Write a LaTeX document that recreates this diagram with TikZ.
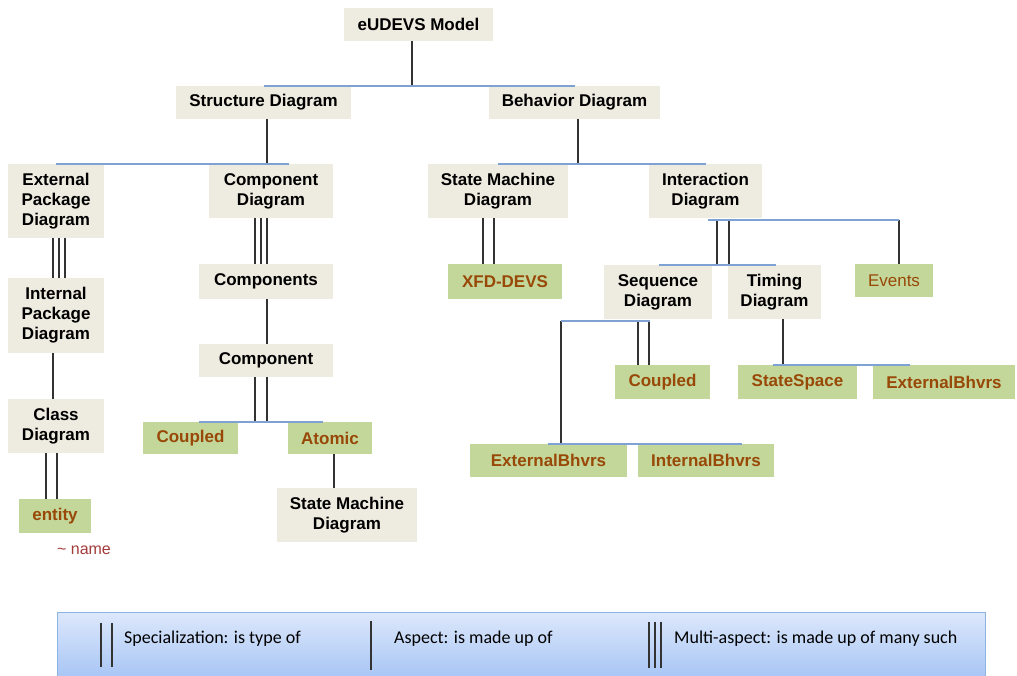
\documentclass[tikz,border=0pt]{standalone}
\usepackage{fontspec}
\setmainfont{Liberation Sans}
\newfontfamily\keyfont{Carlito}

\definecolor{diagfill}{HTML}{EEECE1}
\definecolor{leaffill}{HTML}{C4D79B}
\definecolor{leaftext}{HTML}{984807}
\definecolor{busblue}{HTML}{7EA2D4}
\definecolor{keytop}{HTML}{DDE8FB}
\definecolor{keybottom}{HTML}{A9C6F5}
\definecolor{keyedge}{HTML}{8DB3E2}
\definecolor{notered}{HTML}{A33B3B}

\begin{document}
\begin{tikzpicture}[x=1pt, y=-1pt]
        \tikzstyle{every node}=[inner sep=0pt, align=center, font=\fontsize{17}{20}\selectfont\bfseries]
        \tikzstyle{diag}=[fill=diagfill, text=black]
        \tikzstyle{leaf}=[fill=leaffill, text=leaftext]
        \tikzstyle{link}=[black!80, line width=1.3pt]
        \tikzstyle{bus}=[busblue, line width=1.5pt]

        \useasboundingbox (0,0) rectangle (1017,675);

        % boxes
        \node (model)   [diag, minimum width=149pt, minimum height=33pt] at (418.5,24.5) {eUDEVS Model};
        \node (struct)  [diag, minimum width=175pt, minimum height=33pt] at (263.5,102.5) {Structure Diagram};
        \node (behav)   [diag, minimum width=171pt, minimum height=33pt] at (574.5,102.5) {Behavior Diagram};
        \node (extpkg)  [diag, minimum width=96pt, minimum height=74pt] at (56,201) {External\\Package\\Diagram};
        \node (compdiag)[diag, minimum width=124pt, minimum height=54pt] at (271,191) {Component\\Diagram};
        \node (smd1)    [diag, minimum width=140pt, minimum height=54pt] at (498,191) {State Machine\\Diagram};
        \node (inter)   [diag, minimum width=113pt, minimum height=54pt] at (705.5,191) {Interaction\\Diagram};
        \node (intpkg)  [diag, minimum width=96pt, minimum height=75pt] at (56,315.5) {Internal\\Package\\Diagram};
        \node (comps)   [diag, minimum width=134pt, minimum height=35pt] at (266,281.5) {Components};
        \node (xfd)     [leaf, minimum width=114pt, minimum height=35pt] at (505,281.5) {XFD-DEVS};
        \node (seq)     [diag, minimum width=108pt, minimum height=54pt] at (658,292) {Sequence\\Diagram};
        \node (timing)  [diag, minimum width=93pt, minimum height=54pt] at (774.5,292) {Timing\\Diagram};
        \node (events)  [leaf, minimum width=78pt, minimum height=33pt, font=\fontsize{17}{20}\selectfont] at (894,280.5) {Events};
        \node (comp)    [diag, minimum width=134pt, minimum height=33pt] at (266,360.5) {Component};
        \node (seqcpl)  [leaf, minimum width=95pt, minimum height=34pt] at (662.5,382) {Coupled};
        \node (statesp) [leaf, minimum width=119pt, minimum height=34pt] at (797.5,382) {StateSpace};
        \node (extbh2)  [leaf, minimum width=142pt, minimum height=34pt] at (944,382) {ExternalBhvrs};
        \node (classd)  [diag, minimum width=96pt, minimum height=54pt] at (56,426) {Class\\Diagram};
        \node (cpl)     [leaf, minimum width=95pt, minimum height=32pt] at (190.5,438) {Coupled};
        \node (atomic)  [leaf, minimum width=84pt, minimum height=32pt] at (330,438) {Atomic};
        \node (extbh1)  [leaf, minimum width=157pt, minimum height=33pt] at (548.5,460.5) {ExternalBhvrs};
        \node (intbh)   [leaf, minimum width=136pt, minimum height=33pt] at (706,460.5) {InternalBhvrs};
        \node (entity)  [leaf, minimum width=72pt, minimum height=34pt] at (55,516) {entity};
        \node (smd2)    [diag, minimum width=140pt, minimum height=54pt] at (347,515) {State Machine\\Diagram};
        \node (note)    [text=notered, font=\fontsize{16}{18}\selectfont] at (84,550) {\textasciitilde{} name};

        % bus ends
        \coordinate (a)  at (412,87);
        \coordinate (b)  at (267,164);
        \coordinate (c)  at (578,164);
        \coordinate (dL) at (708,220);
        \coordinate (dR) at (899,220);
        \coordinate (fL) at (561,321);
        \coordinate (fR) at (650,321);

        % aspect links
        \draw[link] (a |- model.south) -- (a);
        \draw[link] (b |- struct.south) -- (b);
        \draw[link] (c |- behav.south) -- (c);
        \draw[link] (53,0 |- intpkg.south) -- (53,0 |- classd.north);
        \draw[link] (267,0 |- comps.south) -- (267,0 |- comp.north);
        \draw[link] (334,0 |- atomic.south) -- (334,0 |- smd2.north);
        \draw[link] (dR) -- (dR |- events.north);
        \draw[link] (fL) -- (fL |- extbh1.north);
        \draw[link] (783,0 |- timing.south) -- (783,0 |- statesp.north);

        % specialization links
        \foreach \x in {46,57} \draw[link] (\x,0 |- classd.south) -- (\x,0 |- entity.north);
        \foreach \x in {255,267} \draw[link] (\x,0 |- comp.south) -- (\x,0 |- cpl.north);
        \foreach \x in {483,494} \draw[link] (\x,0 |- smd1.south) -- (\x,0 |- xfd.north);
        \foreach \x in {717,729} \draw[link] (\x,0 |- dL) -- (\x,0 |- seq.north);
        \foreach \x in {638,649} \draw[link] (\x,0 |- fL) -- (\x,0 |- seqcpl.north);

        % multi-aspect links
        \foreach \x in {53,59,65} \draw[link] (\x,0 |- extpkg.south) -- (\x,0 |- intpkg.north);
        \foreach \x in {255,261,267} \draw[link] (\x,0 |- compdiag.south) -- (\x,0 |- comps.north);

        % buses
        \draw[bus] (struct.north) -- (behav.north);
        \draw[bus] (extpkg.north) -- (289,0 |- compdiag.north);
        \draw[bus] (smd1.north) -- (inter.north);
        \draw[bus] (dL) -- (dR);
        \draw[bus] (659,0 |- seq.north) -- (776,0 |- timing.north);
        \draw[bus] (fL) -- (fR);
        \draw[bus] (548,0 |- extbh1.north) -- (742,0 |- intbh.north);
        \draw[bus] (773,0 |- statesp.north) -- (910,0 |- extbh2.north);
        \draw[bus] (199,0 |- cpl.north) -- (323,0 |- atomic.north);

        % key
        \node (key) [draw=keyedge, line width=1pt, top color=keytop, bottom color=keybottom,
                     minimum width=928pt, minimum height=64pt] at (521,644) {};
        \foreach \x in {101,112} \draw[link] (\x,623) -- (\x,667);
        \draw[link] (371,621) -- (371,670);
        \foreach \x in {649,655,661} \draw[link] (\x,622) -- (\x,668);
        \node (kspec)  [anchor=west, font=\keyfont\fontsize{18}{20}\selectfont] at (124,639) {Specialization: is type of};
        \node (kasp)   [anchor=west, font=\keyfont\fontsize{18}{20}\selectfont] at (394,639) {Aspect: is made up of};
        \node (kmulti) [anchor=west, font=\keyfont\fontsize{18}{20}\selectfont] at (674,639) {Multi-aspect: is made up of many such};
\end{tikzpicture}
\end{document}
